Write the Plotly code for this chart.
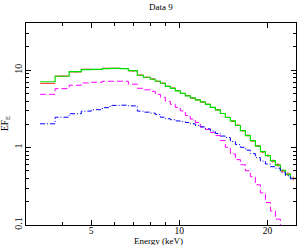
import plotly.graph_objects as go

# Bin edges (keV)
edges = [3.35, 3.77, 4.21, 4.63, 5.01, 5.46, 5.81, 6.29, 6.70, 7.19, 7.54, 7.96, 8.28,
         8.62, 8.96, 9.32, 9.69, 10.08, 10.48, 10.90, 11.34, 11.79, 12.27, 12.76, 13.27,
         13.80, 14.35, 14.93, 15.53, 16.15, 16.80, 17.47, 18.17, 18.90, 19.66, 20.45,
         21.26, 22.11, 23.00, 23.92, 25.0]

# Model total (green)
model_total = [7.09, 8.36, 9.56, 10.15, 10.25, 10.5, 10.55, 10.5, 9.85, 8.61, 8.11, 7.64,
               7.20, 6.78, 6.20, 5.84, 5.42, 5.03, 4.67, 4.39, 4.14, 3.90, 3.62, 3.31, 3.07,
               2.76, 2.45, 2.21, 1.93, 1.66, 1.43, 1.23, 1.046, 0.887, 0.787, 0.678, 0.593,
               0.510, 0.453, 0.402]

# Data (red)
data_vals = [6.75, 8.4, 9.5, 10.3, 10.2, 10.6, 10.6, 10.5, 9.8, 8.65, 8.1, 7.7, 7.2, 6.8,
             6.2, 5.88, 5.45, 5.0, 4.7, 4.37, 4.15, 3.87, 3.63, 3.3, 3.08, 2.76, 2.46, 2.2,
             1.95, 1.65, 1.44, 1.22, 1.05, 0.88, 0.79, 0.67, 0.60, 0.50, 0.455, 0.40]
data_err = [0.12, 0.12, 0.12, 0.12, 0.12, 0.12, 0.12, 0.12, 0.12, 0.11, 0.10, 0.10, 0.10,
            0.09, 0.09, 0.09, 0.08, 0.08, 0.08, 0.07, 0.07, 0.07, 0.06, 0.06, 0.06, 0.05,
            0.05, 0.05, 0.05, 0.04, 0.04, 0.04, 0.035, 0.03, 0.03, 0.03, 0.03, 0.025, 0.025,
            0.025]

# Component 1 (magenta, dashed)
comp_magenta = [4.88, 5.78, 6.39, 6.84, 6.99, 7.20, 7.20, 7.2, 6.6, 5.84, 5.58, 5.34, 4.88,
                4.46, 3.96, 3.62, 3.31, 2.98, 2.60, 2.34, 2.11, 1.85, 1.71, 1.57, 1.43, 1.23,
                1.009, 0.828, 0.699, 0.601, 0.503, 0.420, 0.331, 0.260, 0.195, 0.152, 0.119,
                0.095, None, None]

# Component 2 (blue, dash-dot)
comp_blue = [2.03, 2.47, 2.74, 2.96, 3.09, 3.28, 3.51, 3.53, 3.46, 2.96, 2.87, 2.79, 2.68,
             2.47, 2.36, 2.29, 2.21, 2.16, 2.11, 2.03, 1.93, 1.85, 1.75, 1.64, 1.52, 1.41,
             1.35, 1.20, 1.094, 1.009, 0.928, 0.836, 0.742, 0.668, 0.614, 0.567, 0.542,
             0.481, 0.433, 0.396]

x_major = [5, 10, 20]
x_minor = [3, 4, 6, 7, 8, 9, 30]
y_major = [0.1, 1, 10]
y_minor = [0.2, 0.3, 0.4, 0.5, 0.6, 0.7, 0.8, 0.9, 2, 3, 4, 5, 6, 7, 8, 9, 20, 30, 40]


def step(vals):
    return list(vals) + [vals[-1]]


centers = [(a * b) ** 0.5 for a, b in zip(edges[:-1], edges[1:])]
ex_plus = [b - c for b, c in zip(edges[1:], centers)]
ex_minus = [c - a for a, c in zip(edges[:-1], centers)]

fig = go.Figure()
fig.add_trace(go.Scatter(
    x=centers, y=data_vals, mode="markers",
    marker=dict(size=1, color="#ff3030"),
    error_x=dict(type="data", array=ex_plus, arrayminus=ex_minus, color="#ff3030",
                 thickness=1, width=0),
    error_y=dict(type="data", array=data_err, color="#ff3030", thickness=1, width=0),
    showlegend=False, hoverinfo="skip"))
fig.add_trace(go.Scatter(x=edges, y=step(model_total), mode="lines", line_shape="hv",
                         line=dict(color="#00e000", width=1.2), showlegend=False))
fig.add_trace(go.Scatter(x=edges, y=step(comp_magenta), mode="lines", line_shape="hv",
                         line=dict(color="#ff00ff", width=1, dash="6px,3px"),
                         connectgaps=False, showlegend=False))
fig.add_trace(go.Scatter(x=edges, y=step(comp_blue), mode="lines", line_shape="hv",
                         line=dict(color="#0000ff", width=1, dash="5px,2px,1px,2px"),
                         showlegend=False))

font = dict(family="Liberation Serif, Times New Roman, serif", size=10, color="black")

fig.update_xaxes(
    type="log", range=[0.4771, 1.3979], showgrid=False, zeroline=False, automargin=False,
    showline=True, linecolor="black", linewidth=1, mirror="ticks",
    ticks="inside", ticklen=5, tickcolor="black", tickwidth=1,
    tickvals=x_major, ticktext=[str(v) for v in x_major], tickfont=dict(font, size=9.5),
    ticklabelstandoff=-3,
    minor=dict(tickvals=x_minor, ticks="inside", ticklen=3, tickcolor="black",
               showgrid=False),
)
fig.update_yaxes(
    type="log", range=[-1, 1.61], showgrid=False, zeroline=False, automargin=False,
    showline=True, linecolor="black", linewidth=1, mirror="ticks",
    ticks="inside", ticklen=5, tickcolor="black", tickwidth=1,
    tickvals=y_major, ticktext=["0.1", "1", "10"], tickangle=-90, tickfont=font,
    ticklabelstandoff=-1,
    minor=dict(tickvals=y_minor, ticks="inside", ticklen=3, tickcolor="black",
               showgrid=False),
)

fig.update_layout(
    width=297, height=245,
    margin=dict(l=26, r=1, t=23, b=20),
    paper_bgcolor="white", plot_bgcolor="white",
    font=font,
    annotations=[
        dict(text="Data 9", x=0.5, y=1, xref="paper", yref="paper", xanchor="center",
             yanchor="middle", yshift=16, showarrow=False, font=dict(font, size=9)),
        dict(text="Energy (keV)", x=0.49, y=0, xref="paper", yref="paper",
             xanchor="center", yanchor="middle", yshift=-16, showarrow=False,
             font=dict(font, size=9)),
        dict(text="EF<sub>E</sub>", x=0, y=0.5, xref="paper", yref="paper",
             xanchor="center", yanchor="middle", xshift=-21, showarrow=False,
             textangle=-90, font=dict(font, size=9.5)),
    ],
)

fig.write_html(
    "out.html",
    config={"displayModeBar": False},
    post_script="document.body.style.margin='0';document.body.style.padding='0';"
                "document.body.style.overflow='hidden';",
)
